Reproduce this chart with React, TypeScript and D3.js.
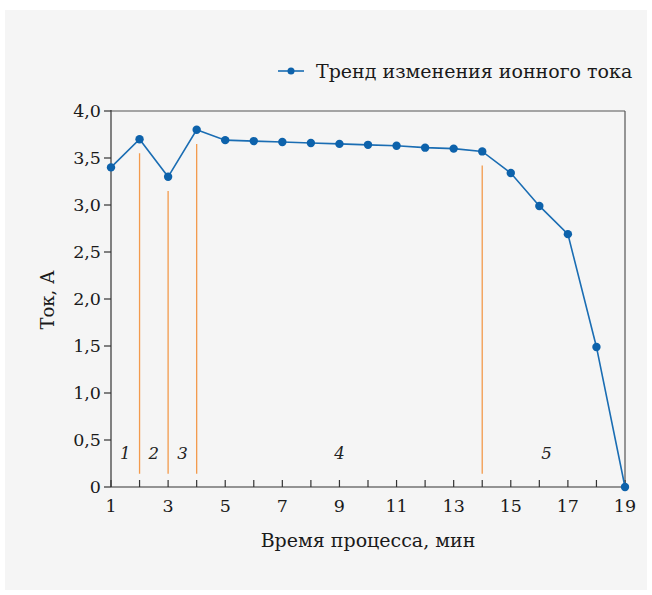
import React from "react";
import * as d3 from "d3";

const times = [1, 2, 3, 4, 5, 6, 7, 8, 9, 10, 11, 12, 13, 14, 15, 16, 17, 18, 19];
const current = [3.4, 3.7, 3.3, 3.8, 3.69, 3.68, 3.67, 3.66, 3.65, 3.64, 3.63, 3.61, 3.6, 3.57, 3.34, 2.99, 2.69, 1.49, 0];
const xTickLabels = [1, 3, 5, 7, 9, 11, 13, 15, 17, 19];
const yTicks = [0, 0.5, 1, 1.5, 2, 2.5, 3, 3.5, 4];
const stageBounds = [2, 3, 4, 14];
const stageTops = [3.55, 3.15, 3.65, 3.42];
const stageLabels = ["1", "2", "3", "4", "5"];
const stageLabelX = [1.5, 2.5, 3.5, 9, 16.25];
const seriesName = "Тренд изменения ионного тока";
const xTitle = "Время процесса, мин";
const yTitle = "Ток, А";

const W = 652, H = 595;
const L = 111, R = 625, T = 111, B = 487;
const font = "'DejaVu Serif', serif";

export default function App() {
  const x = d3.scaleLinear().domain([1, 19]).range([L, R]);
  const y = d3.scaleLinear().domain([0, 4]).range([B, T]);
  const line = d3.line<number>().x((_, i) => x(times[i])).y((d) => y(d));
  const fmt = (v: number) => (v === 0 ? "0" : d3.format(".1f")(v).replace(".", ","));
  return (
    <svg width={W} height={H} style={{ position: "absolute", left: 0, top: 0 }}>
      <rect x={5} y={10} width={642} height={580} fill="#f5f5f5" />
      {/* frame */}
      <line x1={L} x2={R} y1={T} y2={T} stroke="#555" strokeWidth={1.2} />
      <line x1={R} x2={R} y1={T} y2={B} stroke="#555" strokeWidth={1.2} />
      {/* stage boundaries */}
      {stageBounds.map((s, i) => (
        <line key={s} x1={x(s)} x2={x(s)} y1={y(0.14)} y2={y(stageTops[i])} stroke="#f39a4c" strokeWidth={1.3} />
      ))}
      {stageLabels.map((s, i) => (
        <text key={s} x={x(stageLabelX[i])} y={y(0.3)} textAnchor="middle" fontStyle="italic" fontSize={16.5} fontFamily={font} fill="#222">
          {s}
        </text>
      ))}
      {/* axes */}
      <line x1={L} x2={L} y1={T - 1} y2={B} stroke="#333" strokeWidth={1.2} />
      <line x1={L} x2={R} y1={B} y2={B} stroke="#333" strokeWidth={1.2} />
      {yTicks.map((t) => (
        <g key={t}>
          <line x1={L - 7} x2={L} y1={y(t)} y2={y(t)} stroke="#333" strokeWidth={1.2} />
          <text x={L - 10} y={y(t) + 6} textAnchor="end" fontSize={17.5} fontFamily={font} fill="#1a1a1a">
            {fmt(t)}
          </text>
        </g>
      ))}
      {times.map((t) => (
        <line key={t} x1={x(t)} x2={x(t)} y1={B - 7} y2={B} stroke="#333" strokeWidth={1.2} />
      ))}
      {xTickLabels.map((t) => (
        <text key={t} x={x(t)} y={B + 25} textAnchor="middle" fontSize={17.5} fontFamily={font} fill="#1a1a1a">
          {t}
        </text>
      ))}
      <text x={368} y={547} textAnchor="middle" fontSize={19} fontFamily={font} fill="#1a1a1a">
        {xTitle}
      </text>
      <text transform={`translate(54,${(T + B) / 2 + 1}) rotate(-90)`} textAnchor="middle" fontSize={18} fontFamily={font} fill="#1a1a1a">
        {yTitle}
      </text>
      {/* series */}
      <path d={line(current) || ""} fill="none" stroke="#1a6db3" strokeWidth={1.6} />
      {current.map((v, i) => (
        <circle key={i} cx={x(times[i])} cy={y(v)} r={4.2} fill="#0d62ab" />
      ))}
      {/* legend */}
      <line x1={278} x2={304} y1={71} y2={71} stroke="#1a6db3" strokeWidth={1.6} />
      <circle cx={291} cy={71} r={3.5} fill="#0d62ab" />
      <text x={316} y={78} fontSize={19} fontFamily={font} fill="#1a1a1a">
        {seriesName}
      </text>
    </svg>
  );
}
